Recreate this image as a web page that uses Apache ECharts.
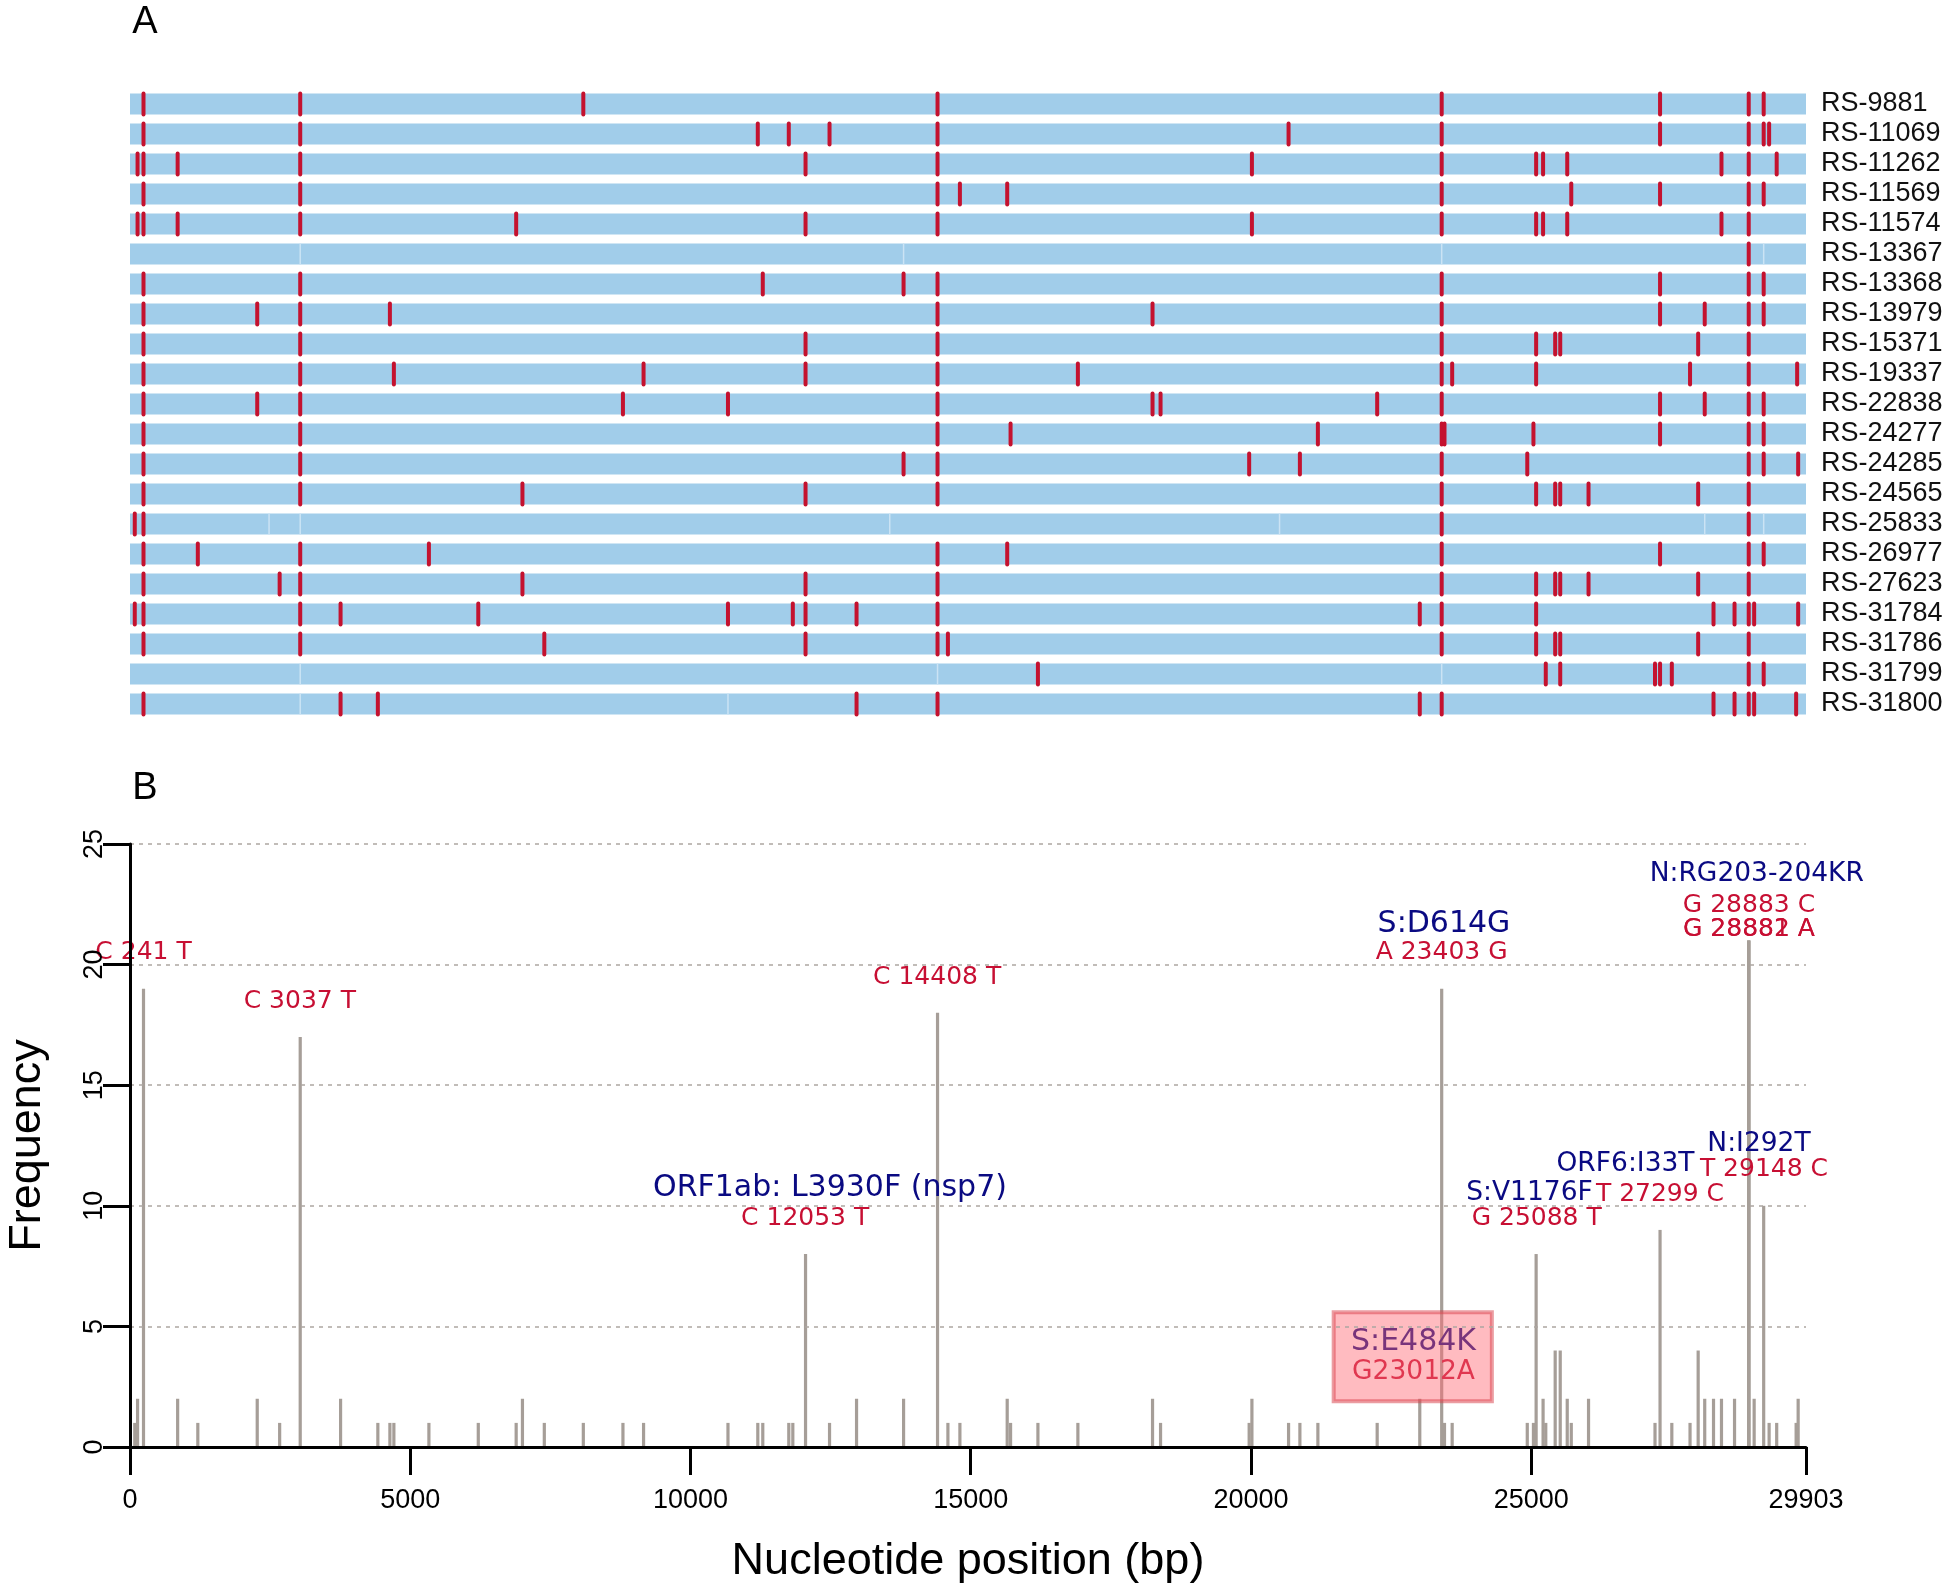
<!DOCTYPE html>
<html>
<head>
<meta charset="utf-8">
<script src="https://cdn.jsdelivr.net/npm/echarts@6/dist/echarts.min.js"></script>
<style>
html,body{margin:0;padding:0;background:#ffffff;}
#main{width:1946px;height:1590px;}
</style>
</head>
<body>
<div id="main"></div>
<script>
// ---------------- DATA ----------------
const genomeLength = 29903;

const sampleNames = ["RS-9881","RS-11069","RS-11262","RS-11569","RS-11574","RS-13367","RS-13368","RS-13979",
  "RS-15371","RS-19337","RS-22838","RS-24277","RS-24285","RS-24565","RS-25833","RS-26977","RS-27623",
  "RS-31784","RS-31786","RS-31799","RS-31800"];

const sampleMutations = [
  [241, 3037, 8088, 14408, 23403, 27299, 28881, 29148],
  [241, 3037, 11201, 11754, 12481, 14408, 20671, 23403, 27299, 28881, 29148, 29245],
  [135, 241, 850, 3037, 12053, 14408, 20017, 23403, 25088, 25212, 25643, 28395, 28881, 29380],
  [241, 3037, 14408, 14807, 15651, 23403, 25715, 27299, 28881, 29148],
  [135, 241, 850, 3037, 6890, 12053, 14408, 20017, 23403, 25088, 25212, 25643, 28395, 28881],
  [28881],
  [241, 3037, 11290, 13802, 14408, 23403, 27299, 28881, 29148],
  [241, 2270, 3037, 4637, 14408, 18244, 23403, 27299, 28096, 28881, 29148],
  [241, 3037, 12053, 14408, 23403, 25088, 25428, 25518, 27979, 28881],
  [241, 3037, 4708, 9163, 12053, 14408, 16912, 23403, 23590, 25088, 27834, 28881, 29745],
  [241, 2270, 3037, 8795, 10669, 14408, 18244, 18387, 22252, 23403, 27299, 28096, 28881, 29148],
  [241, 3037, 14408, 15711, 21194, 23403, 23453, 25040, 27299, 28881, 29148],
  [241, 3037, 13802, 14408, 19968, 20873, 23403, 24930, 28881, 29148, 29763],
  [241, 3037, 7002, 12053, 14408, 23403, 25088, 25428, 25518, 26023, 27979, 28881],
  [85, 241, 23403, 28881],
  [241, 1210, 3037, 5333, 14408, 15651, 23403, 27299, 28881, 29148],
  [241, 2670, 3037, 7002, 12053, 14408, 23403, 25088, 25428, 25518, 26023, 27979, 28881],
  [85, 241, 3037, 3757, 6214, 10669, 11826, 12053, 12963, 14408, 23012, 23403, 25088, 28253, 28628, 28881, 28978, 29763],
  [241, 3037, 7392, 12053, 14408, 14593, 23403, 25088, 25428, 25518, 27979, 28881],
  [16199, 25260, 25518, 27209, 27299, 27509, 28881, 29148],
  [241, 3757, 4422, 12963, 14408, 23012, 23403, 28253, 28628, 28881, 28978, 29727]
];

// faint segment boundaries visible in some genome bars
const sampleSegmentBreaks = [
  [],[],[],[],[],
  [3037, 13802, 23403, 29148],
  [],[],[],[],[],[],[],[],
  [2481, 3037, 13555, 20510, 28096, 29148],
  [],[],[],[],
  [3037, 14408, 23403],
  [3037, 10669]
];

const variantPositions = [85,135,241,850,1210,2270,2670,3037,3757,4422,4637,4708,5333,6214,6890,7002,7392,8088,
  8795,9163,10669,11201,11290,11754,11826,12053,12481,12963,13802,14408,14593,14807,15651,15711,16199,16912,
  18244,18387,19968,20017,20671,20873,21194,22252,23012,23403,23453,23590,24930,25040,25088,25212,25260,25428,
  25518,25643,25715,26023,27209,27299,27509,27834,27979,28096,28253,28395,28628,28881,28882,28883,28978,29148,
  29245,29380,29727,29763];
const variantFrequencies = [1,2,19,2,1,2,1,17,2,1,1,1,1,1,1,2,1,1,
  1,1,1,1,1,1,1,8,1,2,2,18,1,1,2,1,1,1,
  2,1,1,2,1,1,1,1,2,19,1,1,1,1,8,2,1,4,
  4,2,1,2,1,9,1,1,4,2,2,2,2,21,21,21,2,10,
  1,1,1,2];

const xTickValues = [0, 5000, 10000, 15000, 20000, 25000, 29903];
const xTickLabels = ["0","5000","10000","15000","20000","25000","29903"];
const yTickLabels = ["0","5","10","15","20","25"];

const annotationTexts = ["C 241 T","C 3037 T","C 14408 T","ORF1ab: L3930F (nsp7)","C 12053 T","S:D614G","A 23403 G",
  "N:RG203-204KR","G 28883 C","G 28882 A","G 28881 A","N:I292T","T 29148 C","ORF6:I33T","T 27299 C",
  "S:V1176F","G 25088 T","S:E484K","G23012A"];
const annotationX = [241, 3030, 14400, 12489, 12046, 23444, 23401, 29025, 28886, 28886, 28886, 29064, 29153,
  26683, 27298, 24970, 25098, 22900, 22900];
const annotationY = [20.5, 18.49, 19.45, 10.72, 9.48, 21.68, 20.49, 23.77, 22.47, 21.47, 21.47, 12.55, 11.5,
  11.72, 10.48, 10.54, 9.49, 4.33, 3.09];
const annotationKind = ["nt","nt","nt","aaBig","nt","aaBig","nt","aa","nt","nt","nt","aa","nt","aa","nt",
  "aa","nt","aaBig","ntBox"];

const highlightBox = [21476, 1.9, 24298, 5.59];

// ---------------- STYLE ----------------
const BAR_BLUE = '#A1CDEA';
const MUT_RED = '#C4122F';
const STEM = '#A69E98';
const NAVY = '#0A0A82';
const RED_TXT = '#C70F33';
const kindStyle = {
  nt: {color: RED_TXT, size: 25},
  ntBox: {color: RED_TXT, size: 26.5},
  aa: {color: NAVY, size: 26.5},
  aaBig: {color: NAVY, size: 30}
};

const rowBarData = sampleNames.map((n, i) => [0, i, genomeLength]);
const mutData = [];
sampleMutations.forEach((arr, i) => arr.forEach(p => mutData.push([p, i])));
const breakData = [];
sampleSegmentBreaks.forEach((arr, i) => arr.forEach(p => breakData.push([p, i])));
const stemData = variantPositions.map((p, i) => [p, variantFrequencies[i]]);
const annData = annotationTexts.map((t, i) => [annotationX[i], annotationY[i], i]);

const chart = echarts.init(document.getElementById('main'), null, {renderer: 'canvas'});

const option = {
  animation: false,
  backgroundColor: '#ffffff',
  graphic: [
    {type: 'text', x: 145, y: 23, style: {text: 'A', fontSize: 38, fontFamily: 'Liberation Sans', fill: '#000', align: 'center', verticalAlign: 'middle'}},
    {type: 'text', x: 145, y: 789, style: {text: 'B', fontSize: 38, fontFamily: 'Liberation Sans', fill: '#000', align: 'center', verticalAlign: 'middle'}}
  ],
  grid: [
    {left: 130, top: 89, width: 1676, height: 630, containLabel: false, outerBoundsMode: 'none'},
    {left: 130, top: 844, width: 1676, height: 603, containLabel: false, outerBoundsMode: 'none'}
  ],
  xAxis: [
    {gridIndex: 0, type: 'value', min: 0, max: genomeLength, show: false},
    {gridIndex: 1, type: 'value', min: 0, max: genomeLength, interval: 5000, z: 10,
     axisLine: {show: true, onZero: false, lineStyle: {color: '#000', width: 3}},
     axisTick: {show: true, length: 28, lineStyle: {color: '#000', width: 3}},
     axisLabel: {margin: 40, fontSize: 27, fontFamily: 'Liberation Sans', color: '#000', showMinLabel: true, showMaxLabel: true,
       formatter: v => { const i = xTickValues.indexOf(v); return i >= 0 ? xTickLabels[i] : ''; }},
     splitLine: {show: false},
     name: 'Nucleotide position (bp)', nameLocation: 'middle', nameGap: 92,
     nameTextStyle: {fontSize: 45, fontFamily: 'Liberation Sans', color: '#000'}}
  ],
  yAxis: [
    {gridIndex: 0, type: 'category', data: sampleNames, inverse: true, position: 'right',
     axisLine: {show: false}, axisTick: {show: false},
     axisLabel: {interval: 0, margin: 15, fontSize: 27, fontFamily: 'Liberation Sans', color: '#111'}},
    {gridIndex: 1, type: 'value', min: 0, max: 25, interval: 5, z: 10,
     axisLine: {show: true, lineStyle: {color: '#000', width: 3}},
     axisTick: {show: true, length: 27, lineStyle: {color: '#000', width: 3}},
     axisLabel: {rotate: 90, margin: 22, fontSize: 27, fontFamily: 'Liberation Sans', color: '#000',
       formatter: v => yTickLabels[Math.round(v / 5)]},
     splitLine: {show: true, lineStyle: {color: '#ADA6A1', width: 1.5, type: [4, 5]}},
     name: 'Frequency', nameLocation: 'middle', nameGap: 80,
     nameTextStyle: {fontSize: 45, fontFamily: 'Liberation Sans', color: '#000'}}
  ],
  series: [
    {type: 'custom', xAxisIndex: 0, yAxisIndex: 0, data: rowBarData, z: 1, clip: false,
     encode: {x: 0, y: 1},
     renderItem: (params, api) => {
       const a = api.coord([api.value(0), api.value(1)]);
       const b = api.coord([api.value(2), api.value(1)]);
       return {type: 'rect', shape: {x: a[0], y: a[1] - 10.5, width: b[0] - a[0], height: 21}, style: {fill: BAR_BLUE}};
     }},
    {type: 'custom', xAxisIndex: 0, yAxisIndex: 0, data: breakData, z: 2, clip: false,
     encode: {x: 0, y: 1},
     renderItem: (params, api) => {
       const c = api.coord([api.value(0), api.value(1)]);
       return {type: 'rect', shape: {x: c[0] - 0.75, y: c[1] - 10.5, width: 1.5, height: 21}, style: {fill: '#CBE3F4'}};
     }},
    {type: 'custom', xAxisIndex: 0, yAxisIndex: 0, data: mutData, z: 3, clip: false,
     encode: {x: 0, y: 1},
     renderItem: (params, api) => {
       const c = api.coord([api.value(0), api.value(1)]);
       return {type: 'rect', shape: {x: c[0] - 2, y: c[1] - 12.5, width: 4, height: 25, r: 2},
               style: {fill: MUT_RED}};
     }},
    {type: 'custom', xAxisIndex: 1, yAxisIndex: 1, data: stemData, z: 2, clip: false,
     encode: {x: 0, y: 1},
     renderItem: (params, api) => {
       const base = api.coord([api.value(0), 0]);
       const top = api.coord([api.value(0), api.value(1)]);
       return {type: 'rect', shape: {x: base[0] - 1.6, y: top[1], width: 3.2, height: base[1] - top[1]}, style: {fill: STEM}};
     }},
    {type: 'custom', xAxisIndex: 1, yAxisIndex: 1, data: annData, z: 4, clip: false,
     encode: {x: 0, y: 1},
     renderItem: (params, api) => {
       const i = api.value(2);
       const c = api.coord([api.value(0), api.value(1)]);
       const st = kindStyle[annotationKind[i]];
       return {type: 'text', x: c[0], y: c[1],
               style: {text: annotationTexts[i], fill: st.color, fontSize: st.size, fontFamily: 'DejaVu Sans',
                       align: 'center', verticalAlign: 'middle'}};
     }},
    {type: 'custom', xAxisIndex: 1, yAxisIndex: 1, data: [highlightBox], z: 6, clip: false,
     encode: {x: [0, 2], y: [1, 3]},
     renderItem: (params, api) => {
       const a = api.coord([api.value(0), api.value(3)]);
       const b = api.coord([api.value(2), api.value(1)]);
       return {type: 'rect', shape: {x: a[0], y: a[1], width: b[0] - a[0], height: b[1] - a[1]},
               style: {fill: 'rgba(255,105,115,0.45)', stroke: 'rgba(215,60,70,0.5)', lineWidth: 4}};
     }}
  ]
};
chart.setOption(option);
</script>
</body>
</html>
